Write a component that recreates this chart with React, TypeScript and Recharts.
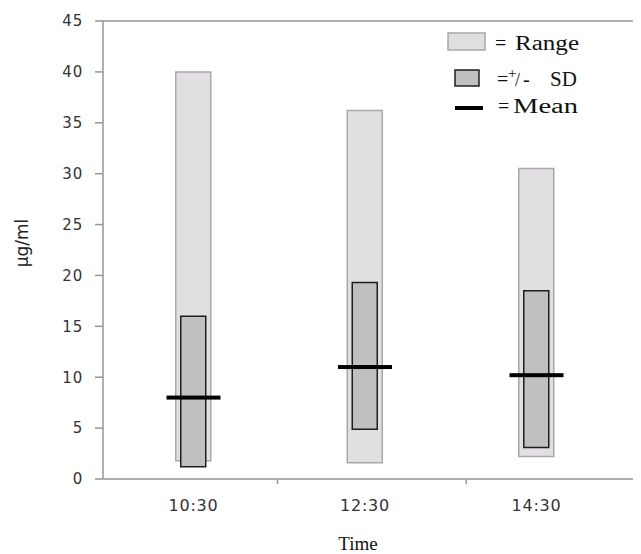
import React from 'react';
import {
  ComposedChart,
  Bar,
  Scatter,
  XAxis,
  YAxis,
  ReferenceLine,
  Legend,
} from 'recharts';

// sampling times and the measured concentration summary (µg/ml)
const times = ['10:30', '12:30', '14:30'];
const rangeLow = [1.8, 1.6, 2.2];
const rangeHigh = [40, 36.2, 30.5];
const sdLow = [1.2, 4.9, 3.1];
const sdHigh = [16, 19.3, 18.5];
const means = [8, 11, 10.2];

const yTicks = [0, 5, 10, 15, 20, 25, 30, 35, 40, 45];
// small separator ticks between the time groups
const dividerTicks = [0.49, 1.59];

const rows = times.map((time, i) => ({
  x: i,
  time,
  range: [rangeLow[i], rangeHigh[i]],
  sd: [sdLow[i], sdHigh[i]],
  mean: means[i],
}));

const AXIS = '#959595';
const INK = '#111';
const SANS = '"DejaVu Sans", Verdana, sans-serif';
const SERIF = '"Liberation Serif", "Times New Roman", serif';

const XTick = (props: any) => {
  const { x, y, payload } = props;
  const v = payload.value;
  if (Number.isInteger(v)) {
    return (
      <text
        x={x}
        y={y + 32}
        textAnchor="middle"
        fontFamily={SANS}
        fontSize={16}
        letterSpacing={0.8}
        fill="#333"
      >
        {times[v]}
      </text>
    );
  }
  return <line x1={x} x2={x} y1={y} y2={y + 5} stroke={AXIS} strokeWidth={1.5} />;
};

const YTitle = () => (
  <text
    x={14}
    y={235}
    transform="rotate(-90, 14, 235)"
    textAnchor="middle"
    dominantBaseline="central"
    fontFamily={SANS}
    fontSize={17}
    fill="#222"
  >
    μg/ml
  </text>
);

const XTitle = () => (
  <text x={350} y={542} textAnchor="middle" fontFamily={SERIF} fontSize={19} fill={INK}>
    Time
  </text>
);

const MeanMark = (props: any) => {
  const { cx, cy } = props;
  return <rect x={cx - 27} y={cy - 2} width={54} height={4} fill="#000" />;
};

const renderLegend = () => (
  <svg width={170} height={100} style={{ display: 'block' }}>
    <g fontFamily={SERIF} fontSize={20}>
      <rect x={10} y={5} width={37} height={17} fill="#e1dee2" stroke="#a8a8a8" strokeWidth={1.5} />
      <text x={57} y={22} fill={INK}>=</text>
      <text x={77} y={22} fill={INK} textLength={64} lengthAdjust="spacingAndGlyphs">Range</text>

      <rect x={17} y={42} width={24} height={16} fill="#c0c0c0" stroke="#1e1e1e" strokeWidth={1.5} />
      <text x={59} y={58} fill={INK}>=</text>
      <text x={70} y={50} fill={INK} fontSize={15}>+</text>
      <text x={77} y={58} fill={INK} fontSize={18}>/</text>
      <text x={85} y={58} fill={INK}>-</text>
      <text x={112} y={58} fill={INK} fontSize={21}>SD</text>

      <rect x={17} y={78} width={28} height={4} fill="#000" />
      <text x={60} y={85} fill={INK}>=</text>
      <text x={75} y={85} fill={INK} textLength={65} lengthAdjust="spacingAndGlyphs">Mean</text>
    </g>
  </svg>
);

export default function App() {
  return (
    <div style={{ width: 633, height: 546, overflow: 'hidden', fontFamily: SANS }}>
      <ComposedChart
        width={660}
        height={546}
        data={rows}
        margin={{ top: 13, right: 8, bottom: 15, left: 0 }}
      >
        <XAxis
          xAxisId="main"
          dataKey="x"
          type="number"
          domain={[-0.5277, 2.72]}
          allowDataOverflow
          ticks={[0, dividerTicks[0], 1, dividerTicks[1], 2]}
          interval={0}
          tick={<XTick />}
          tickLine={false}
          tickSize={0}
          tickMargin={0}
          height={60}
          axisLine={{ stroke: AXIS, strokeWidth: 1.5 }}
          label={<XTitle />}
        />
        <XAxis
          xAxisId="sd"
          dataKey="x"
          type="number"
          domain={[-0.5277, 2.72]}
          allowDataOverflow
          hide
        />
        <YAxis
          domain={[0, 45]}
          ticks={yTicks}
          interval={0}
          width={95}
          tickSize={8}
          tickMargin={12}
          tickLine={{ stroke: AXIS, strokeWidth: 1.5 }}
          axisLine={{ stroke: AXIS, strokeWidth: 1.5 }}
          tick={{ fontFamily: SANS, fontSize: 15, fill: '#333', letterSpacing: 0.8 }}
          label={<YTitle />}
        />
        <ReferenceLine xAxisId="main" y={45} stroke={AXIS} strokeWidth={1.5} />
        <Bar
          xAxisId="main"
          dataKey="range"
          barSize={35}
          fill="#e2dfe3"
          stroke="#a8a8a8"
          strokeWidth={1.5}
          isAnimationActive={false}
        />
        <Bar
          xAxisId="sd"
          dataKey="sd"
          barSize={25}
          fill="#c0c0c0"
          stroke="#1e1e1e"
          strokeWidth={1.5}
          isAnimationActive={false}
        />
        <Scatter
          xAxisId="main"
          dataKey="mean"
          shape={<MeanMark />}
          isAnimationActive={false}
        />
        <Legend
          content={renderLegend}
          layout="horizontal"
          verticalAlign="middle"
          align="center"
          wrapperStyle={{ left: 430, top: 20, width: 170, height: 100 }}
        />
      </ComposedChart>
    </div>
  );
}
